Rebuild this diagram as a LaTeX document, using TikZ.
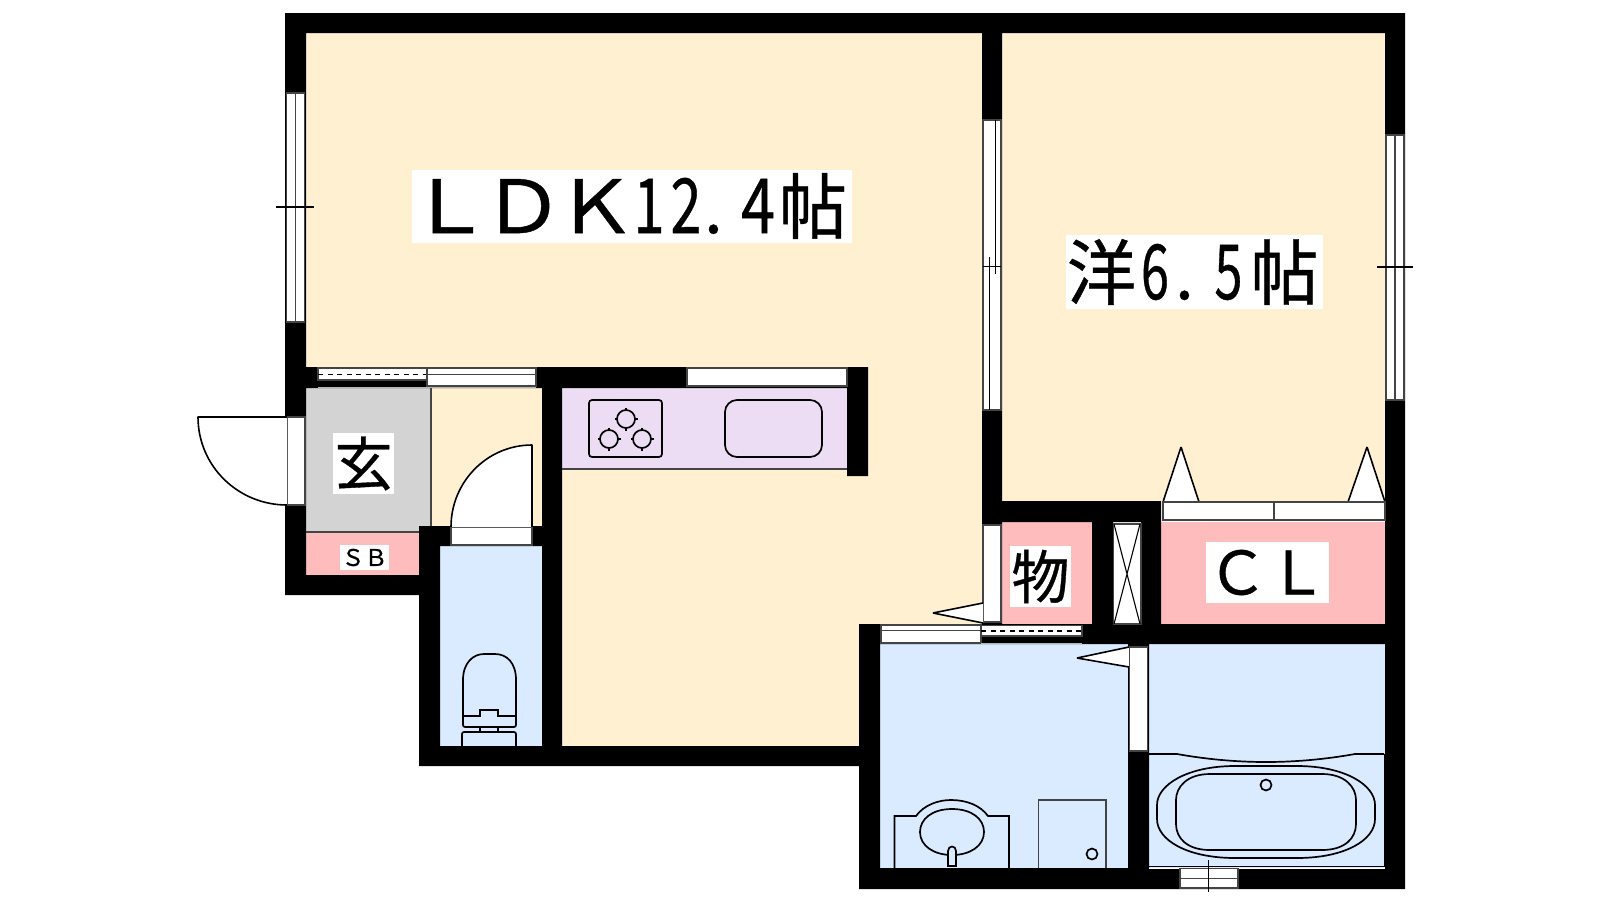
\documentclass[tikz,border=0pt]{standalone}
\usepackage{fontspec}
\setmainfont{Noto Sans CJK JP}[FakeBold=0.6]
\definecolor{cream}{HTML}{FEF0D0}
\definecolor{bluef}{HTML}{DAEBFF}
\definecolor{pinkf}{HTML}{FFBCBC}
\definecolor{purplef}{HTML}{ECDDF5}
\definecolor{greyf}{HTML}{D3D3D3}
\definecolor{edge}{HTML}{444444}
% a fixed-width cell for one glyph, scaled x/y
\newcommand{\cell}[5]{\makebox[#1pt][#2]{\scalebox{#3}[#4]{#5}}}
\tikzset{
  panel/.style={fill=white,draw=edge,line width=1.2pt},
  fix/.style={draw=black,line width=1.7pt},
  fine/.style={draw=black,line width=1.1pt},
  swing/.style={fill=white,draw=black,line width=1.6pt,line join=bevel},
  lbl/.style={fill=white,inner sep=0pt,text=black,anchor=center,align=center},
}
\begin{document}
\begin{tikzpicture}[x=1pt,y=-1pt]
\useasboundingbox (0,0) rectangle (1600,900);
\fill[white] (0,0) rectangle (1600,900);
% floors
\fill[cream] (306,33) -- (1385,33) -- (1385,501) -- (982,501) -- (982,624) -- (859,624) -- (859,746) -- (542,746) -- (542,526) -- (431,526) -- (431,388) -- (306,388) -- cycle;
\fill[purplef] (562,388) rectangle (847,469);
\fill[greyf] (306,388) rectangle (431,532);
\fill[pinkf] (306,532) rectangle (419,575);
\fill[pinkf] (1002,522) rectangle (1092,624);
\fill[pinkf] (1161,522) rectangle (1385,624);
\fill[bluef] (440,546) rectangle (542,746);
\fill[bluef] (880,644) rectangle (1128,868);
\fill[bluef] (1149,644) rectangle (1385,868);
% walls
\fill[black]
 (285,13) rectangle (1405,33)
 (285,13) rectangle (306,595)
 (285,575) rectangle (440,595)
 (285,367) rectangle (562,388)
 (419,526) rectangle (562,546)
 (419,526) rectangle (440,766)
 (542,367) rectangle (562,766)
 (536,367) rectangle (847,388)
 (847,367) rectangle (868,476)
 (419,746) rectangle (880,766)
 (859,624) rectangle (880,889)
 (859,868) rectangle (1405,889)
 (982,13) rectangle (1002,624)
 (982,501) rectangle (1161,522)
 (1385,13) rectangle (1405,889)
 (1092,522) rectangle (1113,644)
 (1141,522) rectangle (1161,644)
 (880,624) rectangle (1405,644)
 (1128,624) rectangle (1149,889);
% room edge lines
\draw[edge,line width=1.2pt] (431,388) -- (431,526);
\draw[edge,line width=1.2pt] (306,532) -- (419,532);
\draw[edge,line width=1.3pt] (562,469) -- (847,469);
\draw[black,line width=1.3pt] (1149,866.5) -- (1384.5,866.5) -- (1384.5,754);
\draw[white,line width=1pt] (1149,868) -- (1385,868);
% left window
\draw[panel] (286.5,93) rectangle (304.7,322);
\draw[edge,line width=1.2pt] (295.6,93) -- (295.6,322);
\draw[fine] (276,207) -- (314,207);
% LDK-bedroom window
\draw[panel] (983,120) rectangle (1001,410);
\draw[black,line width=1pt] (995,120) -- (995,274) (989,257) -- (989,410) (983,266) -- (1001,266);
% right window
\draw[panel] (1386,135) rectangle (1404,400);
\draw[edge,line width=1.2pt] (1395,135) -- (1395,400);
\draw[fine] (1377,267) -- (1413,267);
% hall sliding window
\draw[panel] (318,368) rectangle (427,380);
\draw[black,line width=1.2pt,dash pattern=on 5pt off 4.5pt] (318,374.5) -- (427,374.5);
\draw[panel] (427,368) rectangle (536,386);
\draw[edge,line width=1.2pt] (427,374.5) -- (536,374.5);
\draw[edge!40,line width=1pt] (318,387.5) -- (536,387.5);
% kitchen window
\draw[panel] (687,368) rectangle (847,386);
% washroom sliding window
\draw[panel] (881,625) rectangle (981,643);
\draw[edge,line width=1.2pt] (881,630.5) -- (981,630.5);
\draw[panel] (981,625.5) rectangle (1082,636);
\draw[black,line width=1.2pt,dash pattern=on 5pt off 4.5pt] (981,631) -- (1082,631);
\draw[edge!40,line width=1pt] (981,643.5) -- (1082,643.5);
% bath window
\draw[panel] (1180,868.5) rectangle (1238,888);
\draw[edge,line width=1.6pt] (1180,878.5) -- (1238,878.5);
\draw[fine] (1208.7,860) -- (1208.7,892);
% entrance door
\draw[panel] (287,417) rectangle (305,505);
\draw[swing] (287,417) -- (198,417) .. controls (198,466) and (238,505) .. (287,505);
% toilet door
\draw[panel] (451,527) rectangle (532,545);
\draw[swing] (451,527) .. controls (451,482) and (487,445) .. (532,445) -- (532,527);
% closet doors
\draw[swing] (1163,502) -- (1181,447) -- (1199,502);
\draw[swing] (1348,502) -- (1367,447) -- (1385,502);
\draw[panel] (1163,502) rectangle (1385,520);
\draw[edge,line width=1.2pt] (1274,502) -- (1274,520);
\draw[white,line width=1pt] (1163,521.5) -- (1385,521.5);
% storage door
\draw[panel] (983,525) rectangle (1001,622);
\draw[swing] (983,603) -- (933,613) -- (983,623);
% washroom door
\draw[swing] (1129,647) -- (1077,658) -- (1129,667);
\draw[panel] (1129.5,647) rectangle (1147.5,751);
% shaft
\draw[panel] (1113.5,524) rectangle (1141,624);
\draw[fine] (1114,524) -- (1140,624) (1140,524) -- (1114,624);
% stove
\draw[fix,rounded corners=3pt] (589,400) rectangle (662,457);
\foreach \cx/\cy in {626/419,609/439,642/439}{
  \draw[fix] (\cx,\cy) circle[radius=9pt];
  \draw[fine] (\cx-11.5,\cy) -- (\cx-8,\cy) (\cx+8,\cy) -- (\cx+11.5,\cy) (\cx,\cy-11.5) -- (\cx,\cy-8) (\cx,\cy+8) -- (\cx,\cy+11.5);
}
% kitchen sink
\draw[fix,rounded corners=12pt] (725,400) rectangle (822,457);
% toilet
\draw[fix] (463,716) -- (463,680) .. controls (463,663) and (473,654) .. (484,654) -- (495,654) .. controls (507,654) and (516,663) .. (516,680) -- (516,716);
\draw[fix] (462,716) -- (480,716) -- (480,710) -- (498,710) -- (498,716) -- (517,716);
\draw[fix,rounded corners=2pt] (463,716) -- (463,727) -- (516,727) -- (516,716);
\draw[fix] (480,727) -- (480,732) (498,727) -- (498,732);
\draw[fix,rounded corners=2pt] (462,746) -- (462,732) -- (516,732) -- (516,746);
% washbasin
\draw[fix] (894.5,868) -- (894.5,816) -- (916,816) .. controls (924,805) and (938,800) .. (951,800) .. controls (966,800) and (980,805) .. (988,816) -- (1009,816) -- (1009,868);
\draw[fix] (952,809) .. controls (972,809) and (984,819) .. (984,832) .. controls (984,846) and (970,855) .. (952,855) .. controls (934,855) and (920,846) .. (920,832) .. controls (920,819) and (932,809) .. (952,809);
\draw[fix,fill=bluef] (948,866) -- (948,851) .. controls (948,845) and (956,845) .. (956,851) -- (956,866) -- cycle;
% washer pan
\draw[draw=edge,line width=1.4pt] (1038.5,868) -- (1038.5,800) -- (1106,800) -- (1106,868);
\draw[fix] (1092,854) circle[radius=5.5pt];
% bath
\draw[fix] (1149,754) -- (1177,754) .. controls (1205,759) and (1235,762) .. (1266,762) .. controls (1297,762) and (1327,759) .. (1355,754) -- (1384,754);
\draw[fix] (1235,766) -- (1297,766) .. controls (1345,766) and (1375,785) .. (1375,805) -- (1375,819) .. controls (1375,840) and (1345,858) .. (1297,858) -- (1235,858) .. controls (1187,858) and (1157,840) .. (1157,819) -- (1157,805) .. controls (1157,785) and (1187,766) .. (1235,766) -- cycle;
\draw[fix] (1210,774) -- (1322,774) .. controls (1345,774) and (1356,787) .. (1356,800) -- (1356,824) .. controls (1356,838) and (1345,850) .. (1322,850) -- (1210,850) .. controls (1187,850) and (1176,838) .. (1176,824) -- (1176,800) .. controls (1176,787) and (1187,774) .. (1210,774) -- cycle;
\draw[fix] (1266,785) circle[radius=5.5pt];
% labels
\node[lbl,minimum width=440pt,minimum height=73pt,font=\fontsize{68}{68}\selectfont] (ldk) at (632,206) {\cell{75}{c}{1.25}{1.08}{Ｌ}\cell{72}{c}{1.2}{1.08}{Ｄ}\cell{74}{c}{1.2}{1.08}{Ｋ}\cell{32}{c}{.82}{1.12}{1}\cell{42}{c}{.82}{1.12}{2}\cell{35}{l}{1}{1}{\hspace{-3pt}.}\cell{32}{c}{.9}{1.12}{4}\cell{78}{c}{1}{1.05}{帖}};
\node[lbl,minimum width=257pt,minimum height=74pt,font=\fontsize{68}{68}\selectfont] (yo) at (1194.5,272) {\cell{71}{c}{1.02}{1.05}{洋}\cell{36}{c}{.74}{1.12}{6}\cell{38}{l}{1}{1}{\hspace{2pt}.}\cell{35}{c}{.74}{1.12}{5}\cell{77}{c}{1}{1.05}{帖}};
\node[lbl,minimum width=61pt,minimum height=61pt,font=\fontsize{58}{58}\selectfont] (gen) at (363.5,463.5) {玄};
\node[lbl,minimum width=49pt,minimum height=25pt,font=\fontsize{23}{23}\selectfont] (sb) at (364.5,557.5) {ＳＢ};
\node[lbl,minimum width=61pt,minimum height=61pt,font=\fontsize{58}{58}\selectfont] (mono) at (1040.5,576.5) {物};
\node[lbl,minimum width=123pt,minimum height=61pt,font=\fontsize{60}{60}\selectfont] (cl) at (1267.5,572.5) {ＣＬ};
\end{tikzpicture}
\end{document}
